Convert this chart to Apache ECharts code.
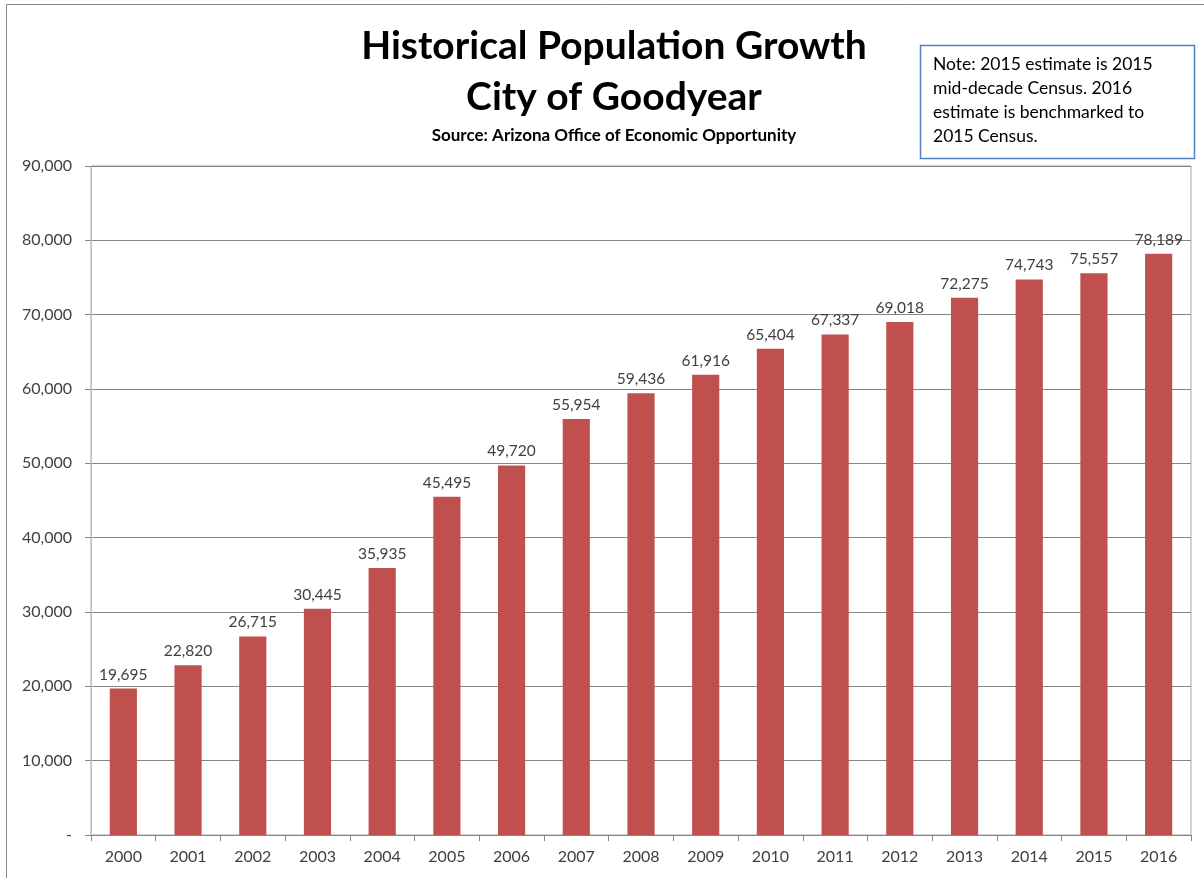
<!DOCTYPE html>
<html>
<head>
<meta charset="utf-8">
<script src="https://cdn.jsdelivr.net/npm/echarts@6/dist/echarts.min.js"></script>
<style>
html,body{margin:0;padding:0;background:#fff;}
#chart{width:1204px;height:878px;}
</style>
</head>
<body>
<div id="chart"></div>
<script>
const years = ['2000','2001','2002','2003','2004','2005','2006','2007','2008','2009','2010','2011','2012','2013','2014','2015','2016'];
const population = [19695,22820,26715,30445,35935,45495,49720,55954,59436,61916,65404,67337,69018,72275,74743,75557,78189];
const titleLines = ['Historical Population Growth','City of Goodyear'];
const subtitleText = 'Source: Arizona Office of Economic Opportunity';
const noteLines = ['Note: 2015 estimate is 2015','mid-decade Census. 2016','estimate is benchmarked to','2015 Census.'];

const fontFam = 'Lato, "Open Sans", sans-serif';
const fmt = v => v === 0 ? '-' : v.toLocaleString('en-US');

const chart = echarts.init(document.getElementById('chart'));
chart.setOption({
  animation: false,
  backgroundColor: '#fff',
  textStyle: {fontFamily: fontFam},
  title: [{
    text: titleLines.join('\n'),
    left: 609, textAlign: 'center', top: 16,
    textStyle: {fontFamily: fontFam, fontSize: 39, fontWeight: 'bold', color: '#000', lineHeight: 51}
  },{
    text: subtitleText,
    left: 609, textAlign: 'center', top: 122,
    textStyle: {fontFamily: fontFam, fontSize: 17, fontWeight: 'bold', color: '#000'}
  }],
  grid: {left: 91, right: 13, top: 166, bottom: 43, show: true, borderColor: '#a6a6a6', borderWidth: 1},
  xAxis: {
    type: 'category', data: years,
    axisLine: {lineStyle: {color: '#868686'}},
    axisTick: {show: true, length: 6, lineStyle: {color: '#868686'}},
    axisLabel: {fontFamily: fontFam, fontSize: 16, color: '#404040', margin: 14}
  },
  yAxis: {
    type: 'value', min: 0, max: 90000, interval: 10000,
    axisLine: {show: true, lineStyle: {color: '#bfbfbf'}},
    axisTick: {show: true, length: 6, lineStyle: {color: '#868686'}},
    axisLabel: {fontFamily: fontFam, fontSize: 16, color: '#404040', margin: 19, formatter: fmt},
    splitLine: {lineStyle: {color: '#868686'}}
  },
  series: [{
    type: 'bar', data: population, barWidth: '42%',
    itemStyle: {color: '#C0504D'},
    label: {show: true, position: 'top', distance: 6, fontFamily: fontFam, fontSize: 15.5, color: '#404040', formatter: p => fmt(p.value)}
  }],
  graphic: [
    {type: 'rect', shape: {x: 6.5, y: 4.5, width: 1210, height: 900}, style: {fill: 'none', stroke: '#868686', lineWidth: 1}, silent: true, z: -1},
    {type: 'rect', shape: {x: 920.5, y: 45.5, width: 274, height: 113}, style: {fill: '#fff', stroke: '#4F81BD', lineWidth: 1.5}, z: 10},
    {type: 'text', x: 933, y: 52, style: {text: noteLines.join('\n'), font: '17.5px ' + fontFam, fill: '#000', lineHeight: 24}, z: 11}
  ]
});
</script>
</body>
</html>
